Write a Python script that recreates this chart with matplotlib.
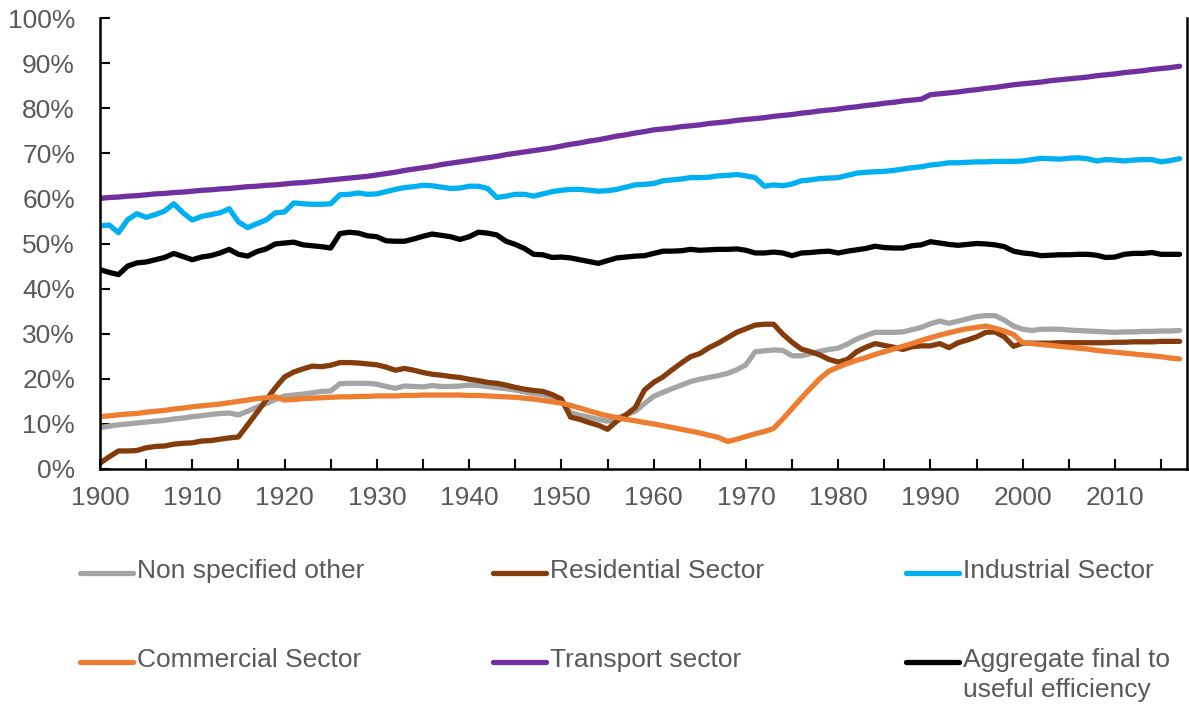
import matplotlib
matplotlib.use("Agg")
import matplotlib.pyplot as plt
from matplotlib.lines import Line2D

plt.rcParams['font.family'] = ['Liberation Sans', 'DejaVu Sans']

# --- data (percent), 1900-2017 ---
years = list(range(1900, 2018))

non_specified = [
    9.2, 9.5, 9.8, 10.0, 10.2, 10.4, 10.6, 10.8, 11.1, 11.3,
    11.6, 11.8, 12.1, 12.3, 12.4, 12.0, 12.8, 13.7, 14.5, 15.4,
    16.2, 16.4, 16.6, 16.9, 17.2, 17.3, 18.9, 19.0, 19.0, 19.0,
    18.8, 18.3, 17.9, 18.4, 18.3, 18.2, 18.5, 18.3, 18.3, 18.4,
    18.6, 18.5, 18.3, 18.0, 17.8, 17.5, 17.1, 16.7, 16.5, 15.9,
    15.3, 12.5, 11.9, 11.5, 11.0, 10.6, 11.3, 12.0, 12.8, 14.5,
    16.1, 17.0, 17.8, 18.6, 19.4, 19.9, 20.3, 20.7, 21.2, 22.0,
    23.1, 26.0, 26.2, 26.4, 26.3, 25.1, 25.1, 25.6, 26.1, 26.5,
    26.8, 27.7, 28.8, 29.6, 30.3, 30.3, 30.3, 30.4, 30.9, 31.4,
    32.2, 32.8, 32.3, 32.8, 33.3, 33.8, 34.0, 34.0, 33.0, 31.7,
    31.0, 30.7, 31.0, 31.0, 31.0, 30.8, 30.7, 30.6, 30.5, 30.4,
    30.3, 30.4, 30.4, 30.5, 30.5, 30.6, 30.6, 30.7,
]

residential = [
    1.3, 2.7, 4.0, 4.0, 4.1, 4.7, 5.0, 5.1, 5.5, 5.7,
    5.8, 6.2, 6.3, 6.6, 6.9, 7.1, 9.8, 12.5, 15.3, 18.0,
    20.4, 21.5, 22.2, 22.8, 22.7, 23.0, 23.6, 23.6, 23.5, 23.3,
    23.1, 22.6, 21.9, 22.3, 21.9, 21.4, 21.0, 20.8, 20.5, 20.3,
    19.9, 19.6, 19.2, 19.0, 18.6, 18.1, 17.7, 17.4, 17.2, 16.5,
    15.5, 11.5, 11.0, 10.3, 9.7, 8.8, 10.6, 12.0, 13.6, 17.5,
    19.2, 20.4, 22.0, 23.5, 24.9, 25.6, 26.9, 27.9, 29.1, 30.3,
    31.1, 31.9, 32.1, 32.1, 29.9, 28.1, 26.6, 26.0, 25.3, 24.3,
    23.7, 24.3, 26.0, 27.0, 27.8, 27.4, 27.0, 26.5, 27.1, 27.3,
    27.3, 27.8, 26.9, 28.0, 28.6, 29.3, 30.3, 30.4, 29.3, 27.2,
    27.9, 27.9, 27.9, 27.9, 28.0, 28.0, 28.0, 28.0, 28.0, 28.0,
    28.1, 28.1, 28.2, 28.2, 28.2, 28.3, 28.3, 28.3,
]

industrial = [
    53.9, 54.1, 52.4, 55.3, 56.6, 55.8, 56.4, 57.2, 58.8, 56.8,
    55.2, 56.0, 56.4, 56.8, 57.7, 54.8, 53.5, 54.4, 55.2, 56.8,
    57.0, 59.0, 58.8, 58.7, 58.7, 58.8, 60.8, 60.9, 61.2, 60.9,
    61.0, 61.5, 62.0, 62.4, 62.6, 62.9, 62.8, 62.5, 62.2, 62.3,
    62.7, 62.7, 62.2, 60.2, 60.5, 60.9, 60.9, 60.5, 61.0, 61.5,
    61.8, 62.0, 62.0, 61.8, 61.6, 61.7, 62.0, 62.5, 63.0, 63.1,
    63.3, 63.9, 64.1, 64.3, 64.6, 64.6, 64.7, 65.0, 65.1, 65.3,
    65.0, 64.6, 62.7, 63.0, 62.8, 63.2, 63.9, 64.1, 64.4, 64.5,
    64.6, 65.1, 65.6, 65.8, 65.9, 66.0, 66.2, 66.5, 66.8, 67.0,
    67.4, 67.6, 67.9, 67.9, 68.0, 68.1, 68.1, 68.2, 68.2, 68.2,
    68.3, 68.6, 68.9, 68.8, 68.7, 68.9, 69.0, 68.8, 68.3, 68.6,
    68.5, 68.3, 68.5, 68.6, 68.6, 68.1, 68.4, 68.8,
]

commercial = [
    11.6, 11.8, 12.0, 12.2, 12.3, 12.6, 12.8, 13.0, 13.3, 13.5,
    13.8, 14.0, 14.2, 14.4, 14.7, 15.0, 15.3, 15.6, 15.8, 16.0,
    15.3, 15.4, 15.6, 15.7, 15.8, 15.9, 16.0, 16.0, 16.1, 16.1,
    16.2, 16.2, 16.2, 16.3, 16.3, 16.4, 16.4, 16.4, 16.4, 16.4,
    16.3, 16.3, 16.2, 16.1, 16.0, 15.9, 15.7, 15.5, 15.2, 14.9,
    14.6, 14.1, 13.5, 12.9, 12.3, 11.8, 11.4, 11.0, 10.7, 10.3,
    10.0, 9.6, 9.2, 8.8, 8.4, 8.0, 7.5, 7.0, 6.1, 6.6,
    7.2, 7.8, 8.3, 9.0, 11.1, 13.4, 15.7, 17.9, 20.0, 21.7,
    22.6, 23.4, 24.1, 24.7, 25.4, 26.0, 26.6, 27.2, 27.8, 28.5,
    29.1, 29.7, 30.2, 30.7, 31.1, 31.4, 31.7, 31.2, 30.6, 29.8,
    28.0, 27.8, 27.6, 27.4, 27.2, 27.0, 26.8, 26.6, 26.3, 26.1,
    25.9, 25.7, 25.5, 25.3, 25.1, 24.9, 24.6, 24.4,
]

transport = [
    60.0, 60.2, 60.3, 60.5, 60.6, 60.8, 61.0, 61.1, 61.3, 61.4,
    61.6, 61.8, 61.9, 62.1, 62.2, 62.4, 62.6, 62.7, 62.9, 63.0,
    63.2, 63.4, 63.5, 63.7, 63.9, 64.1, 64.3, 64.5, 64.7, 64.9,
    65.2, 65.5, 65.8, 66.2, 66.5, 66.8, 67.1, 67.5, 67.8, 68.1,
    68.4, 68.7, 69.0, 69.3, 69.7, 70.0, 70.3, 70.6, 70.9, 71.2,
    71.6, 72.0, 72.3, 72.7, 73.0, 73.4, 73.8, 74.1, 74.5, 74.8,
    75.2, 75.4, 75.6, 75.9, 76.1, 76.3, 76.6, 76.8, 77.0, 77.3,
    77.5, 77.7, 77.9, 78.2, 78.4, 78.6, 78.9, 79.1, 79.4, 79.6,
    79.8, 80.1, 80.3, 80.6, 80.8, 81.1, 81.3, 81.6, 81.8, 82.0,
    83.0, 83.2, 83.4, 83.6, 83.9, 84.1, 84.4, 84.6, 84.9, 85.2,
    85.4, 85.6, 85.8, 86.1, 86.3, 86.5, 86.7, 86.9, 87.2, 87.4,
    87.6, 87.9, 88.1, 88.3, 88.6, 88.8, 89.0, 89.3,
]

aggregate = [
    44.2, 43.6, 43.1, 45.0, 45.7, 45.9, 46.4, 46.9, 47.8, 47.1,
    46.4, 47.0, 47.3, 47.9, 48.7, 47.6, 47.2, 48.2, 48.8, 49.9,
    50.1, 50.3, 49.7, 49.5, 49.3, 49.0, 52.2, 52.5, 52.3, 51.7,
    51.5, 50.6, 50.5, 50.5, 51.0, 51.6, 52.1, 51.8, 51.5, 50.9,
    51.5, 52.5, 52.3, 51.9, 50.5, 49.8, 48.9, 47.6, 47.5, 46.9,
    47.0, 46.8, 46.4, 46.0, 45.6, 46.2, 46.8, 47.0, 47.2, 47.3,
    47.8, 48.3, 48.3, 48.4, 48.7, 48.5, 48.6, 48.7, 48.7, 48.8,
    48.5, 47.9, 47.9, 48.1, 47.9, 47.3, 47.9, 48.0, 48.2, 48.3,
    47.9, 48.3, 48.6, 48.9, 49.4, 49.1, 49.0, 49.0, 49.5, 49.7,
    50.4, 50.1, 49.8, 49.6, 49.8, 50.0, 49.9, 49.7, 49.3, 48.3,
    47.9, 47.7, 47.3, 47.4, 47.5, 47.5, 47.6, 47.6, 47.4, 46.9,
    47.0, 47.6, 47.8, 47.8, 48.0, 47.6, 47.6, 47.6,
]

labels = ["Non specified other", "Residential Sector", "Industrial Sector",
          "Commercial Sector", "Transport sector",
          "Aggregate final to\nuseful efficiency"]
colors = ["#A5A5A5", "#843C0C", "#00B0F0", "#ED7D31", "#7030A0", "#000000"]
series = [non_specified, residential, industrial, commercial, transport, aggregate]

TXT = "#595959"
FS = 19
LW = 3.8

fig = plt.figure(figsize=(11.89, 7.07), dpi=100)
ax = fig.add_axes([100 / 1189, 1 - 469 / 707, 1087 / 1189, 451 / 707])

for vals, c in zip(series, colors):
    ax.plot(years, vals, color=c, lw=LW, solid_joinstyle='round',
            solid_capstyle='round')

ax.set_xlim(1900, 2017.8)
ax.set_ylim(0, 100)

ax.set_yticks(range(0, 101, 10))
ax.set_yticklabels([f"{v}%" for v in range(0, 101, 10)])
ax.set_xticks(range(1900, 2016, 5))
ax.set_xticklabels([str(y) if y % 10 == 0 else "" for y in range(1900, 2016, 5)])

ax.tick_params(axis='both', direction='in', length=7, width=1.5,
               labelsize=FS, labelcolor=TXT, color='black')
ax.tick_params(axis='y', pad=18)
ax.tick_params(axis='x', pad=12)

ax.spines['top'].set_visible(False)
for s in ['left', 'bottom', 'right']:
    ax.spines[s].set_linewidth(1.8)
    ax.spines[s].set_color('black')

# legend, 3 columns x 2 rows, laid out by hand
col_x = [80, 493, 906]
row_y = [573, 662]
for i, (lab, c) in enumerate(zip(labels, colors)):
    x0 = col_x[i % 3]
    y0 = row_y[i // 3]
    fy = 1 - y0 / 707
    fig.add_artist(Line2D([x0 / 1189, (x0 + 53) / 1189], [fy, fy], color=c,
                          lw=LW, solid_capstyle='round',
                          transform=fig.transFigure))
    fig.text((x0 + 57) / 1189, fy + 14 / 707, lab, ha='left', va='top',
             fontsize=FS, color=TXT, linespacing=1.3)

fig.savefig("out.png", dpi=100)
